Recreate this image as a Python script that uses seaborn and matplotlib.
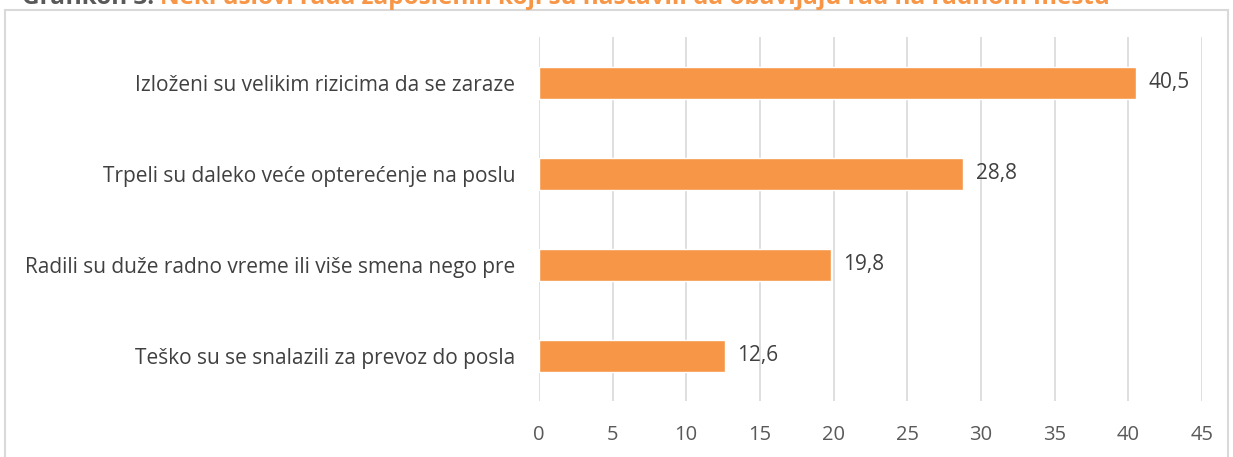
import matplotlib
matplotlib.use("Agg")
import matplotlib.pyplot as plt
import pandas as pd
import seaborn as sns
from matplotlib.patches import Rectangle

# ─── Data ─────────────────────────────────────────────────────────────────────

CATEGORIES = [
    "Izloženi su velikim rizicima da se zaraze",
    "Trpeli su daleko veće opterećenje na poslu",
    "Radili su duže radno vreme ili više smena nego pre",
    "Teško su se snalazili za prevoz do posla",
]
VALUES = [40.5, 28.8, 19.8, 12.6]
X_TICKS = [0, 5, 10, 15, 20, 25, 30, 35, 40, 45]

TITLE_PREFIX = "Grafikon 3: "
TITLE_TEXT = "Neki uslovi rada zaposlenih koji su nastavili da obavljaju rad na radnom mestu"

ORANGE = "#F79646"
GRID = "#D9D9D9"
TEXT = "#404040"

# ─── Plot ─────────────────────────────────────────────────────────────────────

sns.set_theme(style="white")
plt.rcParams["font.family"] = ["Open Sans", "DejaVu Sans"]

df = pd.DataFrame({"label": CATEGORIES, "value": VALUES})

fig = plt.figure(figsize=(12.33, 4.57), dpi=100)
ax = fig.add_axes([0.437, 0.122, 0.538, 0.796])

sns.barplot(data=df, x="value", y="label", color=ORANGE, saturation=1,
            width=0.35, ax=ax, zorder=3)

ax.set_xlim(0, 45)
ax.set_xticks(X_TICKS)
ax.set_xticklabels([str(t) for t in X_TICKS], fontsize=14.5, color="#595959")
ax.tick_params(axis="x", length=0, pad=17)
ax.tick_params(axis="y", length=0, pad=17, labelsize=15, labelcolor=TEXT)
ax.set_xlabel("")
ax.set_ylabel("")
ax.xaxis.grid(True, color=GRID, lw=1.2, zorder=0)
for s in ax.spines.values():
    s.set_visible(False)

for p, v in zip(ax.patches, VALUES):
    ax.annotate(f"{v:.1f}".replace(".", ","),
                (p.get_width(), p.get_y() + p.get_height() / 2),
                xytext=(9, 0), textcoords="offset points",
                va="center", ha="left", fontsize=15, color=TEXT)

# outer chart frame
fig.patches.append(Rectangle((5 / 1233, -0.05), 1223 / 1233, 1.05 - 10 / 457,
                             transform=fig.transFigure, fill=False,
                             edgecolor=GRID, lw=1.5))

# title, cut off at the top like the source
t1 = fig.text(22 / 1233, 1 - 4 / 457, TITLE_PREFIX, fontsize=17.5,
              fontweight="bold", color="#595959", va="baseline", ha="left")
fig.canvas.draw()
bb = t1.get_window_extent()
fig.text(bb.x1 / fig.bbox.width, 1 - 4 / 457, TITLE_TEXT, fontsize=17.5,
         fontweight="bold", color=ORANGE, va="baseline", ha="left")

fig.savefig("out.png", dpi=100)
